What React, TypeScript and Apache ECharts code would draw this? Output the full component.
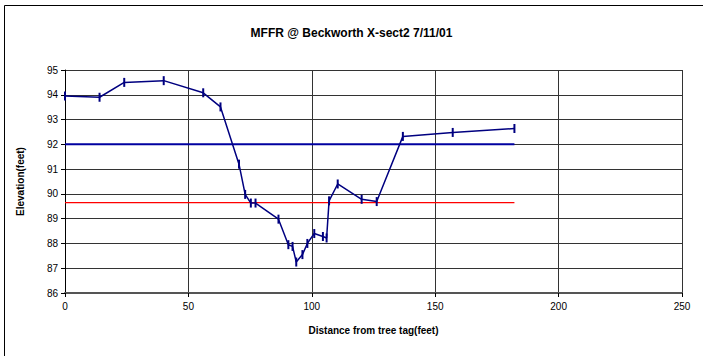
import React, { useEffect, useRef } from "react";
import * as echarts from "echarts";

const distance = [0, 14, 24, 40, 56, 63, 70.5, 73, 75.3, 77.2, 86.5, 90.5, 92.2, 93.7, 96.2, 98.2, 101, 104.5, 106, 107, 110.5, 120.2, 126.3, 136.9, 157.1, 182.1];
const elevation = [93.95, 93.9, 94.5, 94.57, 94.08, 93.51, 91.2, 89.98, 89.63, 89.63, 88.98, 87.95, 87.88, 87.25, 87.55, 88.0, 88.4, 88.28, 88.22, 89.72, 90.4, 89.78, 89.69, 92.32, 92.48, 92.64];
const blueLineX = [0, 182.1];
const blueLineY = [92.0, 92.0];
const redLineX = [0, 182.1];
const redLineY = [89.65, 89.65];

const titleText = "MFFR @ Beckworth X-sect2 7/11/01";
const xTitle = "Distance from tree tag(feet)";
const yTitle = "Elevation(feet)";

export default function App() {
  const ref = useRef<HTMLDivElement>(null);
  useEffect(() => {
    if (!ref.current) return;
    const chart = echarts.init(ref.current, null, { renderer: "svg" });
    const font = "Liberation Sans, Arial, sans-serif";
    chart.setOption({
      animation: false,
      backgroundColor: "#fff",
      textStyle: { fontFamily: font },
      title: {
        text: titleText,
        left: "center",
        top: 22,
        textStyle: { fontFamily: font, fontSize: 12, fontWeight: "bold", color: "#000" },
      },
      graphic: [
        {
          type: "rect",
          shape: { x: 4.5, y: 5.5, width: 760, height: 400 },
          style: { fill: "none", stroke: "#000", lineWidth: 1 },
          silent: true,
        },
      ],
      grid: { left: 65, right: 21, top: 70, bottom: 63, containLabel: false },
      xAxis: {
        type: "value",
        min: 0,
        max: 250,
        interval: 50,
        name: xTitle,
        nameLocation: "middle",
        nameGap: 32,
        nameTextStyle: { fontFamily: font, fontSize: 10, fontWeight: "bold", color: "#000" },
        axisLine: { show: true, lineStyle: { color: "#555", width: 2 } },
        axisTick: { show: true, length: 4, lineStyle: { color: "#000" } },
        axisLabel: { fontFamily: font, fontSize: 10, color: "#000", margin: 8 },
        splitLine: { show: true, lineStyle: { color: "#333", width: 1 } },
      },
      yAxis: {
        type: "value",
        min: 86,
        max: 95,
        interval: 1,
        name: yTitle,
        nameLocation: "middle",
        nameGap: 40,
        nameRotate: 90,
        nameTextStyle: { fontFamily: font, fontSize: 10, fontWeight: "bold", color: "#000" },
        axisLine: { show: true, lineStyle: { color: "#000", width: 1 } },
        axisTick: { show: true, length: 4, lineStyle: { color: "#000" } },
        axisLabel: { fontFamily: font, fontSize: 10, color: "#000", margin: 7 },
        splitLine: { show: true, lineStyle: { color: "#333", width: 1 } },
      },
      series: [
        {
          type: "line",
          data: blueLineX.map((x, i) => [x, blueLineY[i]]),
          symbol: "none",
          lineStyle: { color: "#0000a0", width: 2 },
          z: 3,
        },
        {
          type: "line",
          data: redLineX.map((x, i) => [x, redLineY[i]]),
          symbol: "none",
          lineStyle: { color: "#ff0000", width: 1.2 },
          z: 3,
        },
        {
          type: "line",
          data: distance.map((x, i) => [x, elevation[i]]),
          symbol: "rect",
          symbolSize: [2, 9],
          showSymbol: true,
          itemStyle: { color: "#000080" },
          lineStyle: { color: "#000080", width: 1.5 },
          z: 4,
        },
      ],
    });
    return () => chart.dispose();
  }, []);
  return (
    <div
      ref={ref}
      style={{ position: "fixed", left: 0, top: 0, width: 703, height: 356 }}
    />
  );
}
